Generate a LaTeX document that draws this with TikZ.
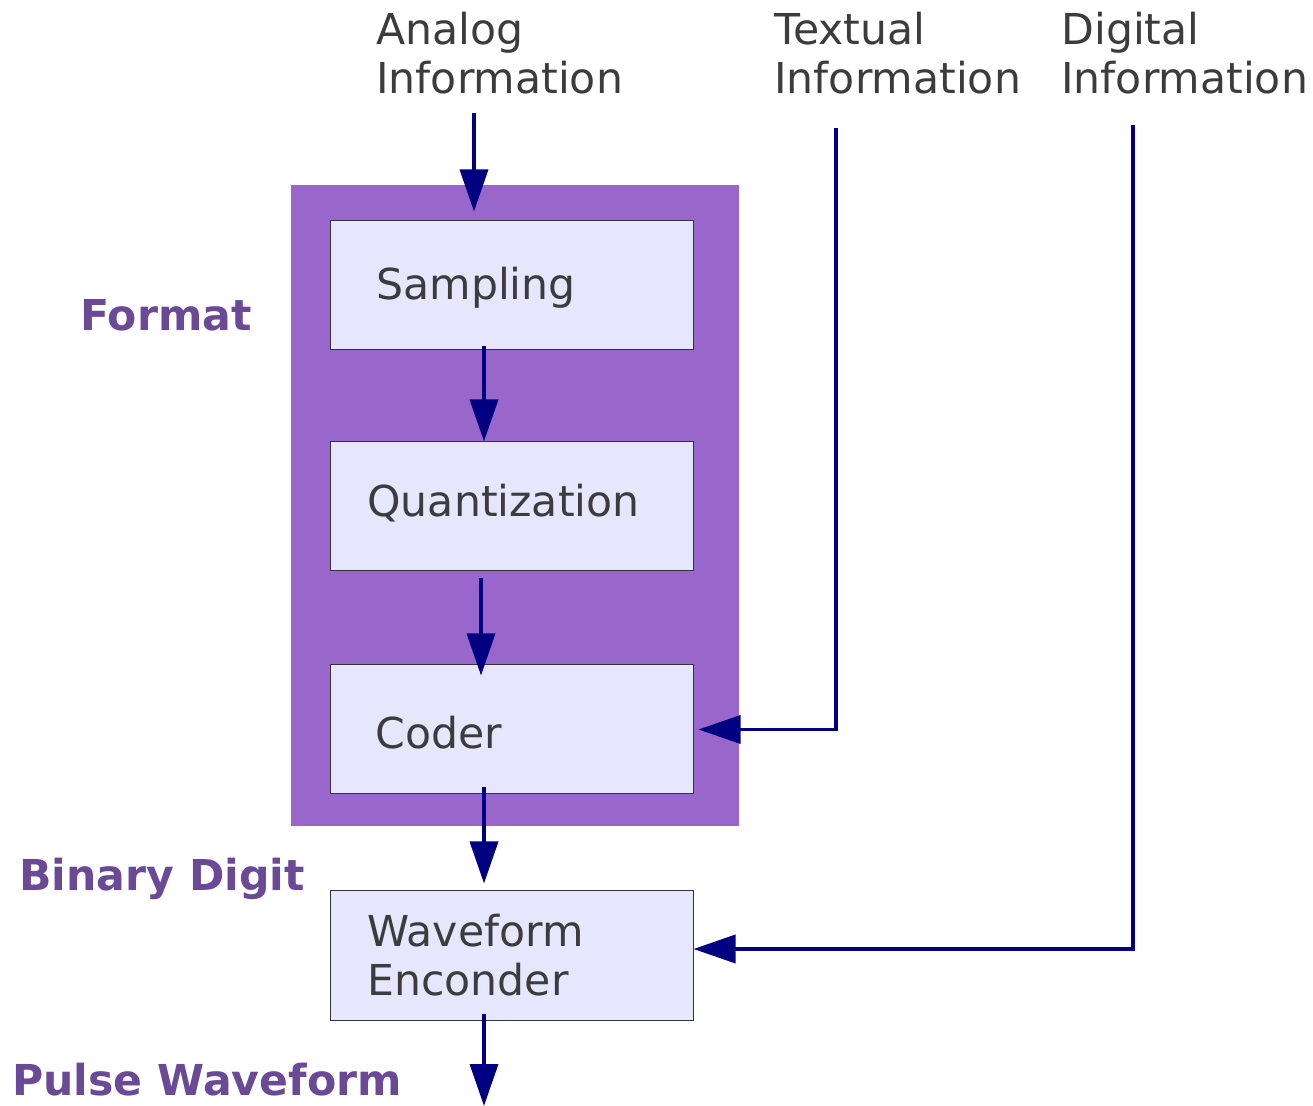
\documentclass[tikz,border=0pt]{standalone}
\usepackage{fontspec}
\setmainfont{DejaVu Sans}
\usetikzlibrary{arrows.meta,positioning}
\definecolor{formatpurple}{RGB}{153,102,204}
\definecolor{boxfill}{RGB}{230,230,255}
\definecolor{textgray}{RGB}{60,60,60}
\definecolor{labelpurple}{RGB}{106,73,150}
\definecolor{flownavy}{RGB}{0,0,128}
\tikzstyle{block} = [rectangle, draw=black!80, line width=0.5pt, fill=boxfill,
    minimum width=181.5pt, minimum height=64.5pt, inner sep=0pt]
\tikzstyle{txt} = [inner sep=0pt, anchor=base west, align=left, text=textgray,
    font=\fontsize{21.3pt}{24.5pt}\selectfont]
\tikzstyle{stage} = [txt, text=labelpurple, font=\fontsize{21.3pt}{24.5pt}\selectfont\bfseries]
\tikzstyle{line} = [draw=flownavy, line width=1.8pt, -{Triangle[length=21pt,width=14pt]}]

\begin{document}
\begin{tikzpicture}[x=0.5pt, y=-0.5pt]
		\useasboundingbox (0,0) rectangle (1313,1106);
		% Format area behind the blocks
		\node [fill=formatpurple, minimum width=224pt, minimum height=320.5pt,
			inner sep=0pt, anchor=north west] (formatarea) at (291,185) {};
		% Draw nodes
		\node [block] (sampling) at (511.5,285.5) {};
		\node [block, below=45.5pt of sampling] (quantization) {};
		\node [block, below=46.5pt of quantization] (coder) {};
		\node [block, below=48pt of coder] (waveform) {};
		% Texts (base anchor sits on the last line)
		\node [txt] (samplingtxt) at (376,300) {Sampling};
		\node [txt] (quantizationtxt) at (367,517) {Quantization};
		\node [txt] (codertxt) at (375,749) {Coder};
		\node [txt] (waveformtxt) at (367,995) {Waveform\\Enconder};
		\node [txt] (analog) at (376,94) {Analog\\Information};
		\node [txt] (textual) at (774,94) {Textual\\Information};
		\node [txt] (digital) at (1061,94) {Digital\\Information};
		\node [stage] (format) at (80,331) {Format};
		\node [stage] (binary) at (19,891) {Binary Digit};
		\node [stage] (pulse) at (12,1095) {Pulse Waveform};
		% Helper coordinates
		\coordinate (analogin) at (474,113);
		\coordinate (textualin) at (836,128);
		\coordinate (digitalin) at (1133,125);
		\coordinate (spine) at (484,0);
		\coordinate (pulseout) at (484,1106);
		% Draw lines connecting (arrows)
		\path [line, shorten >=4.5pt] (analogin) -- (analogin |- sampling.north);
		\path [line] ([yshift=2pt]sampling.south -| spine) -- (quantization.north -| spine);
		\path [line, shorten >=-5.5pt] ([xshift=-1.5pt,yshift=-3.5pt]quantization.south -| spine) -- ([xshift=-1.5pt]coder.north -| spine);
		\path [line, shorten >=3.5pt] ([yshift=3.5pt]coder.south -| spine) -- (waveform.north -| spine);
		\path [line] ([yshift=3.5pt]waveform.south -| spine) -- (pulseout);
		\path [line, shorten >=2.5pt] (textualin) |- (coder.east);
		\path [line] (digitalin) |- ([yshift=3.25pt]waveform.east);
	\end{tikzpicture}
\end{document}
